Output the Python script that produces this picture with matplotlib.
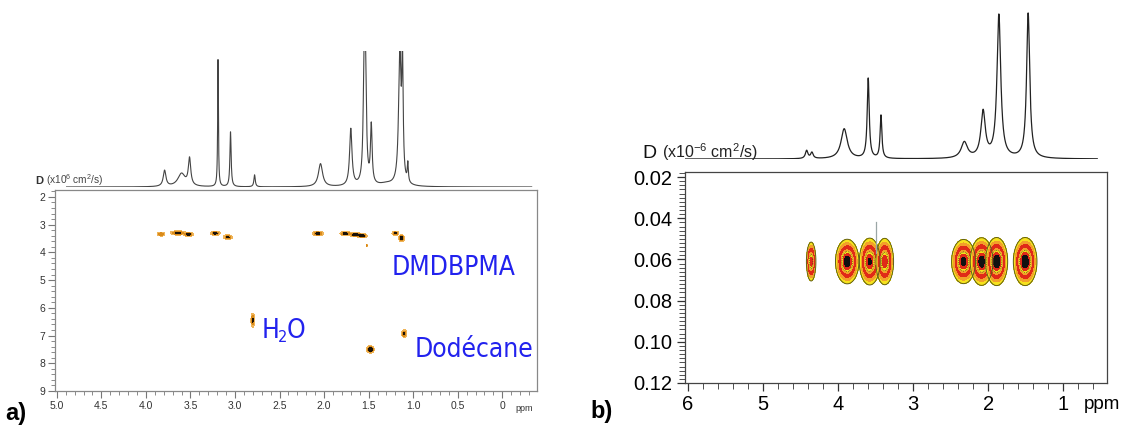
import numpy as np
import matplotlib
matplotlib.use("Agg")
import matplotlib.pyplot as plt
from matplotlib import font_manager
from matplotlib.font_manager import FontProperties
from matplotlib.ticker import MultipleLocator

plt.rcParams['font.family'] = ['Liberation Sans', 'DejaVu Sans']
plt.rcParams['mathtext.default'] = 'regular'

# ---- panel a : 1D spectrum (ppm, height, half width)
a_peak_ppm = [3.79, 3.60, 3.51, 3.19, 3.05, 2.78, 2.04, 1.70, 1.55, 1.535, 1.47, 1.15, 1.12, 1.06, 1.30]
a_peak_h = [16, 13, 27, 128, 55, 12, 23, 57, 110, 100, 58, 132, 116, 19, 2.5]
a_peak_w = [0.018, 0.05, 0.016, 0.005, 0.008, 0.009, 0.028, 0.016, 0.012, 0.012, 0.011, 0.016, 0.009, 0.007, 0.1]

# panel a : DOSY cross peaks (ppm, D, spread in ppm, spread in D, intensity)
a_spot_ppm = [3.83, 3.64, 3.52, 3.22, 3.08, 2.07, 1.76, 1.65, 1.57, 1.20, 1.13, 1.52, 2.80, 1.48, 1.10]
a_spot_D = [3.34, 3.30, 3.35, 3.31, 3.45, 3.32, 3.32, 3.36, 3.40, 3.31, 3.49, 3.75, 6.45, 7.50, 6.93]
a_spot_sx = [0.024, 0.045, 0.027, 0.027, 0.027, 0.032, 0.032, 0.032, 0.027, 0.02, 0.016, 0.004, 0.011, 0.021, 0.015]
a_spot_sy = [0.04, 0.04, 0.04, 0.04, 0.045, 0.045, 0.04, 0.04, 0.04, 0.04, 0.065, 0.03, 0.14, 0.065, 0.075]
a_spot_amp = [0.6, 0.8, 0.8, 0.8, 0.7, 0.8, 0.8, 0.9, 0.9, 0.7, 0.9, 0.5, 0.7, 1.0, 0.7]

a_xticks = [5.0, 4.5, 4.0, 3.5, 3.0, 2.5, 2.0, 1.5, 1.0, 0.5, 0.0]
a_xlabels = ['5.0', '4.5', '4.0', '3.5', '3.0', '2.5', '2.0', '1.5', '1.0', '0.5', '0']
a_yticks = [2, 3, 4, 5, 6, 7, 8, 9]

# ---- panel b : 1D spectrum
b_peak_ppm = [4.42, 4.35, 3.92, 3.60, 3.43, 2.32, 2.07, 1.86, 1.47]
b_peak_h = [8, 6, 30, 80, 43, 16, 46, 143, 145]
b_peak_w = [0.02, 0.02, 0.05, 0.016, 0.014, 0.05, 0.035, 0.03, 0.025]

# panel b : DOSY cross peaks (drawn one by one, left to right)
b_spot_ppm = [4.36, 3.88, 3.58, 3.38, 2.33, 2.09, 1.89, 1.51]
b_spot_D = [0.061, 0.061, 0.061, 0.061, 0.061, 0.061, 0.061, 0.061]
b_spot_sx = [0.026, 0.062, 0.056, 0.048, 0.064, 0.06, 0.058, 0.062]
b_spot_sy = [0.0039, 0.0043, 0.0046, 0.0046, 0.0043, 0.0046, 0.0046, 0.0046]
b_spot_amp = [0.75, 0.95, 0.85, 0.8, 0.9, 0.95, 1.0, 1.0]
b_artifact_ppm = [3.49, 3.49]
b_artifact_D = [0.042, 0.057]

b_xticks = [6, 5, 4, 3, 2, 1]
b_yticks = [0.02, 0.04, 0.06, 0.08, 0.10, 0.12]


def spectrum(x, ppm, h, w):
    y = np.zeros_like(x)
    for p, a, g in zip(ppm, h, w):
        y += a * g**2 / ((x - p)**2 + g**2)
    return y


def gauss2d(X, Y, p, d, wx, wy, a):
    return a * np.exp(-0.5 * ((X - p) / wx)**2 - 0.5 * ((Y - d) / wy)**2)


def pick_narrow_font():
    # an installed condensed sans, if any, for the blue labels
    good = ('condensed', 'semi-condensed', 'extra-condensed', 'ultra-condensed')
    for f in font_manager.fontManager.ttflist:
        if f.style != 'normal' or f.weight not in (400, 'normal', 'regular'):
            continue
        if 'Narrow' in f.name or 'Condensed' in f.name or f.stretch in good:
            if 'Mono' in f.name or 'Serif' in f.name:
                continue
            return FontProperties(fname=f.fname)
    return FontProperties(family='Liberation Sans')


W, H = 1128, 425
fig = plt.figure(figsize=(W / 100, H / 100), dpi=100)


def box(l, t, r, b):
    return [l / W, 1 - b / H, (r - l) / W, (b - t) / H]


# ================= panel a
a_xlim = (5.02, -0.39)
ax_a = fig.add_axes(box(55, 190, 537, 391))
xa = np.linspace(a_xlim[0], a_xlim[1], 1400)
ya = np.linspace(1.75, 9, 800)
XA, YA = np.meshgrid(xa, ya)
ZA = np.zeros_like(XA)
for spot in zip(a_spot_ppm, a_spot_D, a_spot_sx, a_spot_sy, a_spot_amp):
    ZA += gauss2d(XA, YA, *spot)
ax_a.contourf(XA, YA, ZA, levels=[0.12, 0.35, 0.62, 5],
              colors=['#efb458', '#d98a1a', '#1a1208'])
ax_a.set_xlim(a_xlim)
ax_a.set_ylim(9, 1.75)
ax_a.set_xticks(a_xticks)
ax_a.set_xticklabels(a_xlabels)
ax_a.set_yticks(a_yticks)
ax_a.xaxis.set_minor_locator(MultipleLocator(0.1))
ax_a.yaxis.set_minor_locator(MultipleLocator(0.2))
ax_a.tick_params(which='major', length=5, width=0.8, color='#777777',
                 labelsize=7.5, labelcolor='#333333', pad=2)
ax_a.tick_params(which='minor', length=3, width=0.6, color='#777777')
for s in ax_a.spines.values():
    s.set_color('#888888')
    s.set_linewidth(0.9)
ax_a.text(0.955, -0.085, 'ppm', transform=ax_a.transAxes, fontsize=6.5,
          color='#333333', va='center')

# blue labels, sized so DMDBPMA covers ~123 px like the reference
blue = '#2222ee'
fp = pick_narrow_font()
fp.set_size(20)
t1 = ax_a.text(1.24, 4.81, 'DMDBPMA', fontproperties=fp, color=blue,
               ha='left', va='baseline')
r = fig.canvas.get_renderer()
size = min(26, 20 * 124 / t1.get_window_extent(r).width)
fp.set_size(size)
t1.set_fontproperties(fp)
fp_sub = fp.copy()
fp_sub.set_size(size * 0.62)
tH = ax_a.text(2.70, 7.09, 'H', fontproperties=fp, color=blue,
               ha='left', va='baseline')
t2 = ax_a.annotate('2', xy=(1, 0), xycoords=tH, xytext=(-1, -1),
                   textcoords='offset points', fontproperties=fp_sub,
                   color=blue, ha='left', va='bottom')
ax_a.annotate('O', xy=(1, 0), xycoords=t2, xytext=(-1, 1),
              textcoords='offset points', fontproperties=fp,
              color=blue, ha='left', va='bottom')
ax_a.text(0.98, 7.77, 'Dodécane', fontproperties=fp, color=blue,
          ha='left', va='baseline')

ax_a1 = fig.add_axes(box(55, 51, 537, 187))
xs_a = np.linspace(4.89, -0.33, 4000)
ax_a1.plot(xs_a, spectrum(xs_a, a_peak_ppm, a_peak_h, a_peak_w),
           color='#444444', lw=0.8)
ax_a1.set_xlim(a_xlim)
ax_a1.set_ylim(0, 136)
ax_a1.axis('off')

fig.text(35 / W, 1 - 184 / H, 'D', fontsize=8, fontweight='bold', color='#333333')
fig.text(46 / W, 1 - 184 / H, r'(x10$^{6}$ cm$^{2}$/s)', fontsize=7.3, color='#444444')
fig.text(5 / W, 1 - 420 / H, 'a)', fontsize=17, fontweight='bold')

# ================= panel b
b_xlim = (6.04, 0.42)
ax_b = fig.add_axes(box(685, 172, 1107, 383))
xb = np.linspace(b_xlim[0], b_xlim[1], 1400)
yb = np.linspace(0.0175, 0.12, 700)
XB, YB = np.meshgrid(xb, yb)
lev = [0.04, 0.10, 0.20, 0.40, 0.52, 0.64, 0.80, 5]
ring_colors = ['#f6e21c', '#f2a02a', '#e02a18', '#f2a02a', '#f6e21c', '#e02a18', '#111111']
for spot in zip(b_spot_ppm, b_spot_D, b_spot_sx, b_spot_sy, b_spot_amp):
    Z = gauss2d(XB, YB, *spot)
    ax_b.contourf(XB, YB, Z, levels=lev, colors=ring_colors)
    ax_b.contour(XB, YB, Z, levels=[0.04, 0.5], colors=['#5f5e1a', '#222222'],
                 linewidths=[0.7, 0.5], linestyles=['solid', 'dotted'])
ax_b.plot(b_artifact_ppm, b_artifact_D, color='#9aa6a6', lw=0.9)
ax_b.set_xlim(b_xlim)
ax_b.set_ylim(0.12, 0.0175)
ax_b.set_xticks(b_xticks)
ax_b.set_yticks(b_yticks)
ax_b.set_yticklabels(['%.2f' % v for v in b_yticks])
ax_b.xaxis.set_minor_locator(MultipleLocator(0.2))
ax_b.yaxis.set_minor_locator(MultipleLocator(0.002))
ax_b.tick_params(which='major', length=6, width=0.9, color='#333333',
                 labelsize=14.5, pad=3)
ax_b.tick_params(which='minor', length=4, width=0.6, color='#333333')
for s in ax_b.spines.values():
    s.set_color('#444444')
    s.set_linewidth(0.9)
ax_b.text(0.945, -0.1, 'ppm', transform=ax_b.transAxes, fontsize=13.5, va='center')

ax_b1 = fig.add_axes(box(685, 10, 1107, 159))
xs_b = np.linspace(6.1, 0.55, 4000)
ax_b1.plot(xs_b, spectrum(xs_b, b_peak_ppm, b_peak_h, b_peak_w),
           color='#222222', lw=0.9)
ax_b1.set_xlim(b_xlim)
ax_b1.set_ylim(0, 149)
ax_b1.axis('off')

fig.text(642 / W, 1 - 158 / H, 'D', fontsize=14, color='#111111')
fig.text(662 / W, 1 - 158 / H, r'(x10$^{-6}$ cm$^{2}$/s)', fontsize=11.5, color='#222222')
fig.text(590 / W, 1 - 418 / H, 'b)', fontsize=17, fontweight='bold')

fig.savefig('out.png', dpi=100)
